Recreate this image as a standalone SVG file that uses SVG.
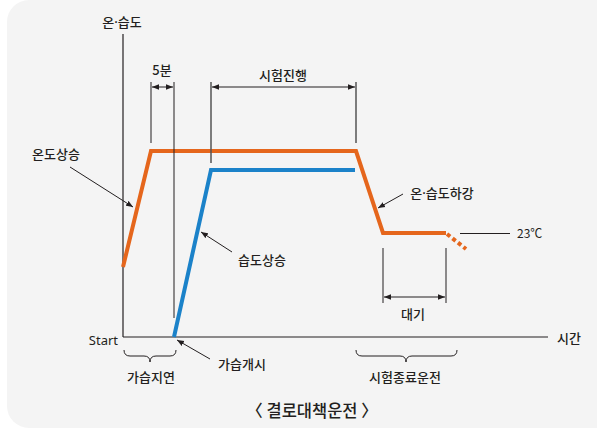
<svg xmlns="http://www.w3.org/2000/svg" width="597" height="429" viewBox="0 0 597 429">
<style>
text{font-family:"Noto Sans CJK KR","Noto Sans",sans-serif;fill:#231f20;font-size:13px;font-weight:500}
.dot{font-family:"Noto Sans",sans-serif}
.ax{stroke:#231f20;stroke-width:1.2;fill:none}
.gr{stroke:#555;stroke-width:1.5;fill:none}
.th{stroke:#231f20;stroke-width:1;fill:none}
.or{stroke:#e5661c;stroke-width:4;fill:none;stroke-linejoin:miter}
.bl{stroke:#1b82c9;stroke-width:4;fill:none;stroke-linejoin:miter}
.mid{text-anchor:middle}
</style>
<defs>
<marker id="ah" viewBox="0 0 10 10" refX="10" refY="5" markerWidth="7" markerHeight="7" markerUnits="userSpaceOnUse" orient="auto-start-reverse">
<path d="M0,1 L10,5 L0,9 Z" fill="#231f20"/>
</marker>
</defs>
<rect x="7" y="0" width="610" height="428" rx="22" fill="#f4f4f4"/>
<g id="axes">
<line class="ax" x1="123" y1="34" x2="123" y2="337"/>
<line class="ax" x1="123" y1="337" x2="548" y2="337"/>
<text id="t-y" x="122" y="27" class="mid">온<tspan class="dot">·</tspan>습도</text>
<text id="t-x" x="557" y="343">시간</text>
<text id="t-start" x="118" y="345" text-anchor="end" style="font-family:'Noto Sans',sans-serif;font-weight:400">Start</text>
</g>
<g id="curves">
<polyline id="temp" class="or" points="123,267 151,151 356,151 383,233 446,233"/>
<line class="or" x1="447" y1="234" x2="466" y2="249" stroke-dasharray="4 3"/>
<polyline id="humid" class="bl" points="174,337 211,170 355,170"/>
</g>
<g id="connectors">
<line class="th" x1="151" y1="82" x2="151" y2="143"/>
<line class="th" x1="174" y1="82" x2="174" y2="318"/>
<line class="gr" x1="211" y1="82" x2="211" y2="163"/>
<line class="gr" x1="356" y1="82" x2="356" y2="143"/>
<line class="th" x1="152" y1="87" x2="173" y2="87" marker-start="url(#ah)" marker-end="url(#ah)"/>
<line class="th" x1="212" y1="87" x2="355" y2="87" marker-start="url(#ah)" marker-end="url(#ah)"/>
<line class="th" x1="383" y1="248" x2="383" y2="303"/>
<line class="th" x1="446" y1="248" x2="446" y2="303"/>
<line class="th" x1="384" y1="297" x2="445" y2="297" marker-start="url(#ah)" marker-end="url(#ah)"/>
<line class="th" x1="460" y1="233.5" x2="510" y2="233.5"/>
<line class="th" x1="70" y1="167" x2="133" y2="207" marker-end="url(#ah)"/>
<line class="th" x1="232" y1="252" x2="201" y2="232" marker-end="url(#ah)"/>
<line class="th" x1="210" y1="359" x2="177" y2="340" marker-end="url(#ah)"/>
<line class="th" x1="403" y1="194" x2="378" y2="208" marker-end="url(#ah)"/>
<path class="th" d="M124,350 Q124,356 130,356 L144,356 Q150,356 150,362 Q150,356 156,356 L170,356 Q176,356 176,350"/>
<path class="th" d="M356,350 Q356,356 362,356 L400,356 Q406,356 406,362 Q406,356 412,356 L451,356 Q457,356 457,350"/>
</g>
<g id="labels">
<text x="162" y="75" class="mid">5분</text>
<text x="283" y="80" class="mid">시험진행</text>
<text x="56" y="159" class="mid">온도상승</text>
<text x="262" y="265" class="mid">습도상승</text>
<text x="242" y="369" class="mid">가습개시</text>
<text x="151" y="382" class="mid">가습지연</text>
<text x="442" y="198" class="mid">온<tspan class="dot">·</tspan>습도하강</text>
<text x="517" y="238" style="font-size:12px;font-weight:400">23℃</text>
<text x="413" y="319" class="mid">대기</text>
<text x="405" y="382" class="mid">시험종료운전</text>
<text x="312" y="417" class="mid" style="font-size:16.5px">〈 결로대책운전 〉</text>
</g>
</svg>
